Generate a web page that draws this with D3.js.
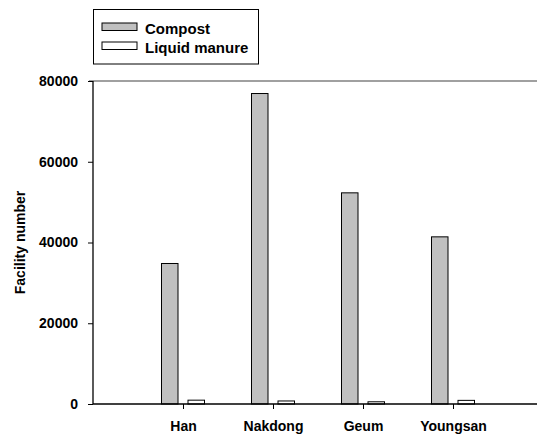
<!DOCTYPE html>
<html>
<head>
<meta charset="utf-8">
<script src="https://cdn.jsdelivr.net/npm/d3@7"></script>
<style>
  html, body { margin: 0; padding: 0; background: #fff; }
  svg { display: block; font-family: "Liberation Sans", Arial, sans-serif; font-weight: bold; }
</style>
</head>
<body>
<svg id="chart" width="537" height="437"></svg>
<script>
// Facility counts per river basin
const basins = ["Han", "Nakdong", "Geum", "Youngsan"];
const compost = [34800, 76900, 52300, 41400];
const liquidManure = [950, 750, 550, 900];
const yTicks = [0, 20000, 40000, 60000, 80000];
const seriesNames = ["Compost", "Liquid manure"];
const seriesFills = ["#c0c0c0", "#ffffff"];

const svg = d3.select("#chart");
const plotLeft = 93, plotRight = 537, plotTop = 81, plotBottom = 404;

// basins sit at positions 1..4; position 0 is left empty
const x = d3.scaleLinear().domain([0, (plotRight - plotLeft) / 90]).range([plotLeft, plotRight]);
const y = d3.scaleLinear().domain([0, 80000]).range([plotBottom, plotTop]);

const barW = 16.5, gap = 5;

// top frame line
svg.append("line")
  .attr("x1", plotLeft - 4).attr("x2", plotRight)
  .attr("y1", y(80000)).attr("y2", y(80000))
  .attr("stroke", "#808080").attr("stroke-width", 1.6);

// bars
const series = [compost, liquidManure];
series.forEach((vals, s) => {
  svg.append("g").selectAll("rect").data(vals).join("rect")
    .attr("x", (d, i) => s === 0 ? x(i + 1) - gap - barW : x(i + 1) + gap)
    .attr("y", d => y(d))
    .attr("width", barW)
    .attr("height", d => y(0) - y(d))
    .attr("fill", seriesFills[s])
    .attr("stroke", "#000")
    .attr("stroke-width", 1);
});

// y axis
const yAxis = svg.append("g")
  .attr("transform", `translate(${plotLeft},0)`)
  .call(d3.axisLeft(y).tickValues(yTicks).tickFormat(d3.format("d")).tickSize(5).tickPadding(10));
yAxis.select(".domain").attr("stroke", "#000").attr("stroke-width", 1.3).attr("d", `M0,${plotTop}V${plotBottom}`);
yAxis.selectAll("line").attr("stroke", "#000");
yAxis.selectAll("text").attr("font-size", 14).attr("font-family", "Liberation Sans, Arial, sans-serif")
  .attr("font-weight", "bold").attr("fill", "#000");

// x axis
const xAxis = svg.append("g")
  .attr("transform", `translate(0,${plotBottom})`)
  .call(d3.axisBottom(x).tickValues([1, 2, 3, 4]).tickFormat(i => basins[i - 1]).tickSize(5).tickPadding(12));
xAxis.select(".domain").attr("stroke", "#000").attr("stroke-width", 1.3).attr("d", `M${plotLeft},0H${plotRight}`);
xAxis.selectAll("line").attr("stroke", "#000");
xAxis.selectAll("text").attr("font-size", 14).attr("font-family", "Liberation Sans, Arial, sans-serif")
  .attr("font-weight", "bold").attr("fill", "#000");

// y axis title
svg.append("text")
  .attr("transform", `translate(25,${(plotTop + plotBottom) / 2}) rotate(-90)`)
  .attr("text-anchor", "middle")
  .attr("font-size", 14)
  .text("Facility number");

// legend
const legend = svg.append("g");
legend.append("rect")
  .attr("x", 93.5).attr("y", 9.5).attr("width", 165).attr("height", 54.5)
  .attr("fill", "#fff").attr("stroke", "#000").attr("stroke-width", 1);
seriesNames.forEach((name, s) => {
  const yy = s === 0 ? 23 : 42;
  legend.append("rect")
    .attr("x", 102).attr("y", yy).attr("width", 35).attr("height", 7.5)
    .attr("fill", seriesFills[s]).attr("stroke", "#000").attr("stroke-width", 1);
  legend.append("text")
    .attr("x", 145).attr("y", yy + 10.5)
    .attr("font-size", 15)
    .text(name);
});
</script>
</body>
</html>
